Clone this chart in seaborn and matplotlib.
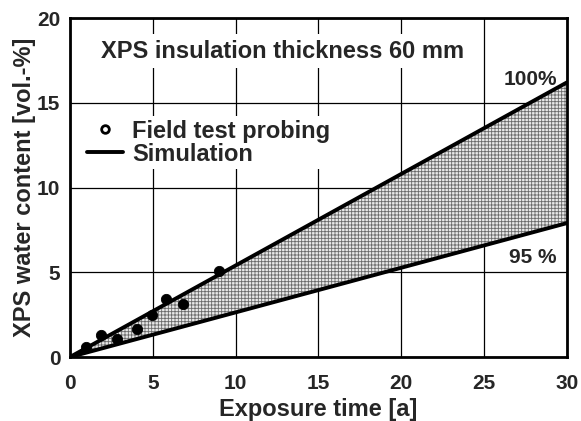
import numpy as np
import pandas as pd
import matplotlib
matplotlib.use("Agg")
import matplotlib.pyplot as plt
import seaborn as sns
from matplotlib.lines import Line2D

sns.set_style("white")
plt.rcParams['font.family'] = ['Liberation Sans', 'DejaVu Sans']
plt.rcParams['font.weight'] = 'bold'
plt.rcParams['hatch.linewidth'] = 0.6

# Data
field_time = [0.95, 1.9, 2.85, 4.05, 4.95, 5.8, 6.8, 9.0]
field_water = [0.6, 1.3, 1.05, 1.65, 2.5, 3.4, 3.1, 5.1]
sim_time = [0, 30]
sim_100 = [0, 16.2]
sim_95 = [0, 7.9]
xticks = [0, 5, 10, 15, 20, 25, 30]
yticks = [0, 5, 10, 15, 20]

fig = plt.figure(figsize=(5.81, 4.21), dpi=100)
ax = fig.add_axes([0.1205, 0.152, 0.855, 0.805])

ax.fill_between(sim_time, sim_95, sim_100, facecolor='#e8e8e8', edgecolor='#6a6a6a',
                hatch='+++++', linewidth=0, zorder=1)

df_sim = pd.DataFrame({'t': sim_time * 2, 'w': sim_100 + sim_95,
                       'case': ['100%'] * 2 + ['95 %'] * 2})
sns.lineplot(data=df_sim, x='t', y='w', units='case', estimator=None, color='black',
             linewidth=2.8, ax=ax, zorder=3, legend=False)

df_f = pd.DataFrame({'t': field_time, 'w': field_water})
sns.scatterplot(data=df_f, x='t', y='w', color='black', s=55, ax=ax, zorder=4,
                edgecolor='black', legend=False)

ax.set_xlim(0, 30)
ax.set_ylim(0, 20)
ax.set_xticks(xticks)
ax.set_yticks(yticks)
ax.grid(True, color='black', linewidth=0.9, zorder=0)
ax.set_axisbelow(True)
for s in ax.spines.values():
    s.set_linewidth(2.0)
    s.set_color('black')
ax.tick_params(axis='both', labelsize=15, length=0)
ax.tick_params(axis='x', pad=12)
ax.tick_params(axis='y', pad=7)
for lab in ax.get_xticklabels() + ax.get_yticklabels():
    lab.set_fontweight('bold')

ax.set_xlabel('Exposure time [a]', fontsize=17, fontweight='bold', labelpad=4)
ax.set_ylabel('XPS water content [vol.-%]', fontsize=17, fontweight='bold', labelpad=1)

ax.text(1.9, 18.05, 'XPS insulation thickness 60 mm', fontsize=17, fontweight='bold',
        ha='left', va='center', zorder=5,
        bbox=dict(facecolor='white', edgecolor='none', pad=4))

ax.text(29.4, 16.4, '100%', fontsize=15, fontweight='bold', ha='right', va='center', zorder=5)
ax.text(29.4, 5.85, '95 %', fontsize=15, fontweight='bold', ha='right', va='center', zorder=5)

handles = [Line2D([], [], marker='o', linestyle='none', markerfacecolor='white',
                  markeredgecolor='black', markeredgewidth=2.0, markersize=5.5),
           Line2D([], [], color='black', linewidth=2.8)]
leg = ax.legend(handles, ['Field test probing', 'Simulation'], loc='upper left',
                bbox_to_anchor=(0.028, 0.711), frameon=True, fontsize=17,
                handlelength=1.5, handletextpad=0.4, labelspacing=0.0,
                borderpad=0.15, borderaxespad=0)
leg.get_frame().set_edgecolor('none')
leg.get_frame().set_facecolor('white')
leg.get_frame().set_alpha(1)
leg.set_zorder(5)
for t in leg.get_texts():
    t.set_fontweight('bold')

fig.savefig('out.png', dpi=100)
